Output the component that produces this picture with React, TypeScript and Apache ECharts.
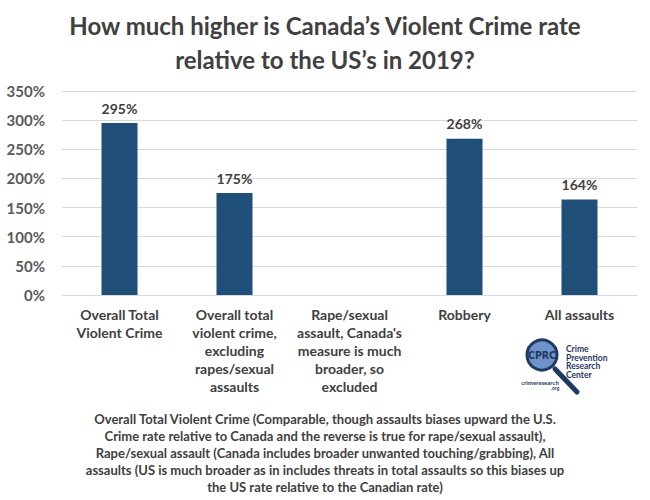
import React, { useEffect, useRef } from "react";
import * as echarts from "echarts";

const categories = [
  "Overall Total\nViolent Crime",
  "Overall total\nviolent crime,\nexcluding\nrapes/sexual\nassaults",
  "Rape/sexual\nassault, Canada's\nmeasure is much\nbroader, so\nexcluded",
  "Robbery",
  "All assaults",
];
const values: (number | null)[] = [295, 175, null, 268, 164];
const yTicks = { min: 0, max: 350, interval: 50 };
const titleLines = [
  "How much higher is Canada\u2019s Violent Crime rate",
  "relative to the US\u2019s in 2019?",
];
const footnoteLines = [
  "Overall Total Violent Crime (Comparable, though assaults biases upward the U.S.",
  "Crime rate relative to Canada and the reverse is true for rape/sexual assault),",
  "Rape/sexual assault (Canada includes broader unwanted touching/grabbing), All",
  "assaults (US is much broader as in includes threats in total assaults so this biases up",
  "the US rate relative to the Canadian rate)",
];
const logoLines = ["Crime", "Prevention", "Research", "Center"];

const FONT = "Lato, 'Open Sans', sans-serif";
const DARK = "#404040";
const BAR = "#1f4e79";
const NAVY = "#1f3864";

export default function App() {
  const ref = useRef<HTMLDivElement>(null);
  useEffect(() => {
    document.body.style.margin = "0";
    const chart = echarts.init(ref.current!, null, { renderer: "svg" });
    chart.setOption({
      animation: false,
      backgroundColor: "#ffffff",
      textStyle: { fontFamily: FONT },
      title: {
        text: titleLines.join("\n"),
        left: "center",
        top: 3,
        textStyle: {
          fontFamily: FONT,
          fontSize: 24,
          fontWeight: "bold",
          color: DARK,
          lineHeight: 34,
        },
      },
      grid: { left: 62, right: 13, top: 91, bottom: 205 },
      xAxis: {
        type: "category",
        data: categories,
        axisLine: { lineStyle: { color: "#d9d9d9" } },
        axisTick: { show: false },
        axisLabel: {
          interval: 0,
          margin: 10,
          fontFamily: FONT,
          fontSize: 14,
          fontWeight: "bold",
          color: DARK,
          lineHeight: 18,
        },
      },
      yAxis: {
        type: "value",
        min: yTicks.min,
        max: yTicks.max,
        interval: yTicks.interval,
        axisLine: { show: false },
        axisTick: { show: false },
        splitLine: { lineStyle: { color: "#d9d9d9" } },
        axisLabel: {
          formatter: "{value}%",
          margin: 17,
          fontFamily: FONT,
          fontSize: 15,
          fontWeight: "bold",
          color: "#595959",
        },
      },
      series: [
        {
          type: "bar",
          data: values,
          barWidth: 36,
          itemStyle: { color: BAR },
          label: {
            show: true,
            position: "top",
            distance: 8,
            formatter: "{c}%",
            fontFamily: FONT,
            fontSize: 14,
            fontWeight: "bold",
            color: DARK,
          },
        },
      ],
      graphic: [
        {
          type: "text",
          left: "center",
          top: 411,
          style: {
            text: footnoteLines.join("\n"),
            font: `bold 13px ${FONT}`,
            fill: DARK,
            textAlign: "center",
            lineHeight: 16.8,
          },
        },
        {
          type: "group",
          children: [
            {
              type: "line",
              shape: { x1: 555, y1: 369, x2: 577, y2: 392 },
              style: { stroke: NAVY, lineWidth: 5, lineCap: "round" },
            },
            {
              type: "circle",
              shape: { cx: 542, cy: 355, r: 15 },
              style: { fill: "#6f93c8", stroke: NAVY, lineWidth: 3 },
            },
            {
              type: "text",
              x: 542,
              y: 355,
              style: {
                text: "CPRC",
                font: "bold 10.5px 'Liberation Sans Narrow', 'DejaVu Sans Condensed', sans-serif",
                fill: NAVY,
                textAlign: "center",
                textVerticalAlign: "middle",
              },
            },
            {
              type: "text",
              x: 566,
              y: 345,
              style: {
                text: logoLines.join("\n"),
                font: `bold 8.5px ${FONT}`,
                fill: NAVY,
                lineHeight: 8.5,
              },
            },
            {
              type: "text",
              x: 540,
              y: 379,
              style: {
                text: "crimeresearch",
                font: `bold 6px ${FONT}`,
                fill: NAVY,
                textAlign: "center",
              },
            },
            {
              type: "text",
              x: 555,
              y: 385,
              style: {
                text: ".org",
                font: `bold 5px ${FONT}`,
                fill: NAVY,
                textAlign: "center",
              },
            },
          ],
        },
      ],
    });
    return () => chart.dispose();
  }, []);
  return <div ref={ref} style={{ width: 650, height: 500 }} />;
}
